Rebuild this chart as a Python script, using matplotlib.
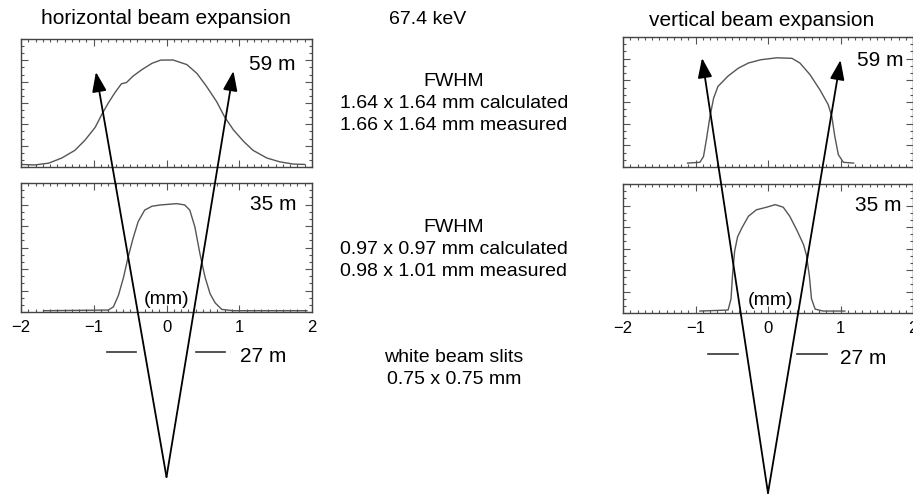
import numpy as np
import matplotlib
matplotlib.use('Agg')
import matplotlib.pyplot as plt
from matplotlib.ticker import MultipleLocator
from matplotlib.transforms import blended_transform_factory

plt.rcParams['font.family'] = ['Liberation Sans', 'DejaVu Sans']

# Beam profiles: position (mm), normalised intensity (fraction of panel height)
h59_x = [-1.99, -1.81, -1.62, -1.44, -1.26, -1.12, -0.98, -0.89, -0.80, -0.71, -0.62, -0.55,
         -0.46, -0.34, -0.20, -0.08, 0.09, 0.28, 0.42, 0.55, 0.69, 0.80, 0.92, 1.06, 1.19,
         1.38, 1.56, 1.74, 1.90]
h59_y = [0.02, 0.016, 0.03, 0.07, 0.13, 0.21, 0.31, 0.41, 0.50, 0.58, 0.65, 0.66,
         0.71, 0.76, 0.81, 0.835, 0.836, 0.80, 0.73, 0.63, 0.51, 0.39, 0.29, 0.20, 0.13,
         0.07, 0.04, 0.023, 0.02]

h35_x = [-1.69, -0.80, -0.73, -0.66, -0.59, -0.53, -0.46, -0.39, -0.30, -0.20, -0.08, 0.14,
         0.25, 0.32, 0.39, 0.46, 0.53, 0.60, 0.67, 0.76, 0.92, 1.93]
h35_y = [0.01, 0.015, 0.04, 0.13, 0.27, 0.42, 0.57, 0.70, 0.79, 0.82, 0.83, 0.84,
         0.83, 0.79, 0.66, 0.45, 0.27, 0.14, 0.07, 0.02, 0.01, 0.01]

v59_x = [-1.11, -0.94, -0.89, -0.85, -0.80, -0.75, -0.69, -0.55, -0.41, -0.27, -0.10, 0.12,
         0.33, 0.44, 0.58, 0.72, 0.83, 0.88, 0.92, 0.97, 1.04, 1.18]
v59_y = [0.03, 0.036, 0.08, 0.21, 0.39, 0.53, 0.62, 0.70, 0.76, 0.80, 0.825, 0.84,
         0.836, 0.80, 0.71, 0.59, 0.48, 0.39, 0.24, 0.095, 0.036, 0.03]

v35_x = [-0.94, -0.55, -0.51, -0.49, -0.46, -0.42, -0.36, -0.27, -0.16, -0.02, 0.10, 0.21,
         0.30, 0.40, 0.49, 0.53, 0.57, 0.60, 0.65, 0.76, 1.06]
v35_y = [0.015, 0.023, 0.11, 0.29, 0.48, 0.59, 0.66, 0.75, 0.80, 0.82, 0.84, 0.82,
         0.75, 0.64, 0.53, 0.45, 0.29, 0.11, 0.03, 0.015, 0.015]

x_ticks = [-2, -1, 0, 1, 2]

# Beam rays (mm at the tip, drawn from the source point at 0 mm)
h_ray_tips = [-0.97, 0.92]
v_ray_tips = [-0.91, 1.00]
# White beam slit blades (mm)
h_slits = [(-0.82, -0.42), (0.41, 0.80)]
v_slits = [(-0.83, -0.41), (0.40, 0.81)]

W, H = 913, 497
fig = plt.figure(figsize=(W / 100, H / 100), dpi=100)

line_col = '#555555'
frame_col = '#444444'


def px_rect(x0, x1, y0, y1):
    # pixel box (from top-left) -> figure fraction rect
    return [x0 / W, 1 - y1 / H, (x1 - x0) / W, (y1 - y0) / H]


def panel(rect, x, y, label, lx, ly, ticklabels=False):
    ax = fig.add_axes(rect)
    ax.plot(x, y, color=line_col, lw=1.0)
    ax.set_xlim(-2, 2)
    ax.set_ylim(0, 1)
    ax.set_xticks(x_ticks)
    ax.xaxis.set_minor_locator(MultipleLocator(0.1))
    ax.yaxis.set_major_locator(MultipleLocator(1 / 6))
    ax.yaxis.set_minor_locator(MultipleLocator(1 / 18))
    ax.tick_params(which='both', direction='in', top=True, right=True, color=line_col, width=0.8)
    ax.tick_params(which='major', length=5)
    ax.tick_params(which='minor', length=2.5)
    ax.tick_params(labelleft=False, labelbottom=ticklabels, labelsize=12, pad=6)
    for s in ax.spines.values():
        s.set_color(frame_col)
        s.set_linewidth(1.0)
    ax.text(lx, ly, label, transform=ax.transAxes, ha='right', va='center', fontsize=15)
    return ax


ax_h59 = panel(px_rect(21, 312, 39, 167), h59_x, h59_y, '59 m', 0.945, 0.80)
ax_h35 = panel(px_rect(21, 312, 183, 312), h35_x, h35_y, '35 m', 0.948, 0.83, ticklabels=True)
ax_v59 = panel(px_rect(623, 913, 37, 167), v59_x, v59_y, '59 m', 0.966, 0.82)
ax_v35 = panel(px_rect(623, 913, 184, 313), v35_x, v35_y, '35 m', 0.962, 0.83, ticklabels=True)

ax_h35.text(0.5, 0.10, '(mm)', transform=ax_h35.transAxes, ha='center', va='center', fontsize=14)
ax_v35.text(0.51, 0.10, '(mm)', transform=ax_v35.transAxes, ha='center', va='center', fontsize=14)

# Overlay in pixel units (y from top) for the schematic and labels
ov = fig.add_axes([0, 0, 1, 1])
ov.set_xlim(0, W)
ov.set_ylim(H, 0)
ov.axis('off')

arrow_kw = dict(arrowstyle='-|>,head_length=0.6,head_width=0.22', mutation_scale=20,
                color='black', lw=1.3, shrinkA=0, shrinkB=0)


def beam(ax_panel, tips, tip_y, apex_y, slits, slit_y, label, label_x):
    tr = blended_transform_factory(ax_panel.transData, ov.transData)
    for tx, ty in zip(tips, tip_y):
        ov.annotate('', xy=(tx, ty), xytext=(0, apex_y), xycoords=tr, textcoords=tr,
                    arrowprops=arrow_kw, annotation_clip=False)
    for a, b in slits:
        ov.plot([a, b], [slit_y, slit_y], color='#333333', lw=1.2, transform=tr, clip_on=False)
    ov.text(label_x, slit_y + 5, label, ha='left', va='center', fontsize=15)


beam(ax_h35, h_ray_tips, [72, 71], 477, h_slits, 352, '27 m', 240)
beam(ax_v35, v_ray_tips, [58, 60], 493, v_slits, 354, '27 m', 840)

ov.text(166, 19, 'horizontal beam expansion', ha='center', va='center', fontsize=15)
ov.text(762, 20, 'vertical beam expansion', ha='center', va='center', fontsize=15)
ov.text(428, 20, '67.4 keV', ha='center', va='center', fontsize=14)

centre_lines = [('FWHM', 81), ('1.64 x 1.64 mm calculated', 103), ('1.66 x 1.64 mm measured', 125),
                ('FWHM', 227), ('0.97 x 0.97 mm calculated', 249), ('0.98 x 1.01 mm measured', 271),
                ('white beam slits', 357), ('0.75 x 0.75 mm', 380)]
for txt, yy in centre_lines:
    ov.text(454, yy, txt, ha='center', va='center', fontsize=14)

fig.savefig('out.png', dpi=100)
